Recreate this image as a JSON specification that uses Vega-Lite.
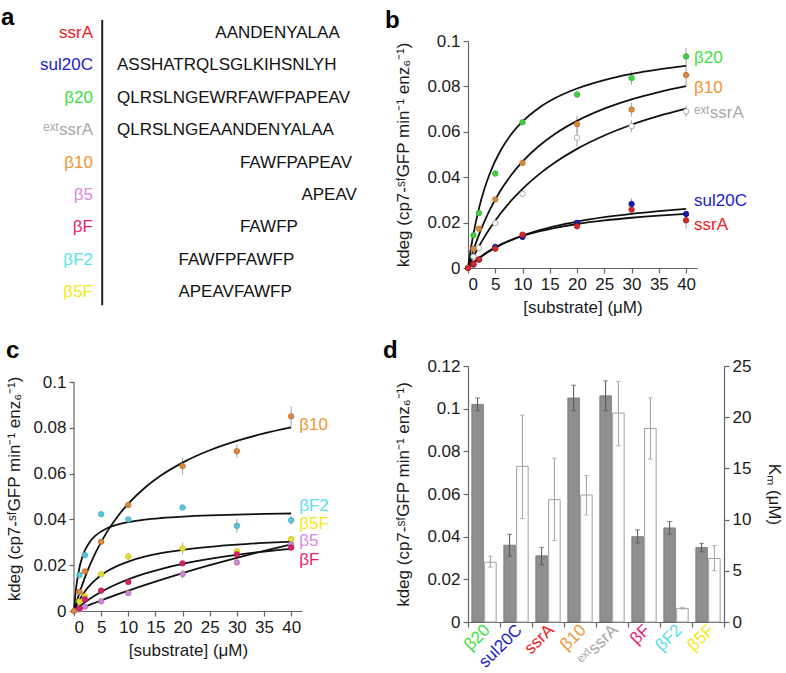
{
 "$schema": "https://vega.github.io/schema/vega-lite/v6.json",
 "padding": {"left": 1, "top": 6, "right": 0, "bottom": 0},
 "bounds": "flush",
 "columns": 2,
 "spacing": {"row": 98, "column": 62},
 "config": {
  "font": "Liberation Sans",
  "view": {"stroke": null},
  "axis": {"domainColor": "#666", "tickColor": "#666", "labelFontSize": 17, "titleFontSize": 17, "titleFontWeight": "normal", "labelColor": "#1a1a1a", "titleColor": "#1a1a1a", "grid": false, "tickSize": 5, "labelPadding": 3, "domainWidth": 1.2, "tickWidth": 1.2, "labelOverlap": false},
  "axisY": {"titlePadding": 9},
  "axisX": {"titlePadding": 7},
  "title": {"fontSize": 24, "fontWeight": "bold", "anchor": "start", "frame": "bounds", "color": "#000"}
 },
 "datasets": {
  "seqs": [
   {"row": 1, "name": "ssrA", "start": 9, "seq": "AANDENYALAA"},
   {"row": 2, "name": "sul20C", "start": 1, "seq": "ASSHATRQLSGLKIHSNLYH"},
   {"row": 3, "name": "β20", "start": 1, "seq": "QLRSLNGEWRFAWFPAPEAV"},
   {"row": 4, "name": "ᵉˣᵗssrA", "start": 1, "seq": "QLRSLNGEAANDENYALAA"},
   {"row": 5, "name": "β10", "start": 11, "seq": "FAWFPAPEAV"},
   {"row": 6, "name": "β5", "start": 16, "seq": "APEAV"},
   {"row": 7, "name": "βF", "start": 11, "seq": "FAWFP"},
   {"row": 8, "name": "βF2", "start": 6, "seq": "FAWFPFAWFP"},
   {"row": 9, "name": "β5F", "start": 6, "seq": "APEAVFAWFP"}
  ],
  "pts": [
   {"series": "β20", "x": 1, "y": 0.0144},
   {"series": "β20", "x": 2, "y": 0.0242},
   {"series": "β20", "x": 5, "y": 0.0416},
   {"series": "β20", "x": 10, "y": 0.0642},
   {"series": "β20", "x": 20, "y": 0.0764, "lo": 0.0749, "hi": 0.0779},
   {"series": "β20", "x": 30, "y": 0.0837, "lo": 0.0807, "hi": 0.0867},
   {"series": "β20", "x": 40, "y": 0.0932, "lo": 0.0894, "hi": 0.097},
   {"series": "β10", "x": 0, "y": 0},
   {"series": "β10", "x": 1, "y": 0.0084},
   {"series": "β10", "x": 2, "y": 0.0173},
   {"series": "β10", "x": 5, "y": 0.0302},
   {"series": "β10", "x": 10, "y": 0.0463},
   {"series": "β10", "x": 20, "y": 0.0633, "lo": 0.0595, "hi": 0.0671},
   {"series": "β10", "x": 30, "y": 0.0698, "lo": 0.0668, "hi": 0.0728},
   {"series": "β10", "x": 40, "y": 0.085, "lo": 0.0806, "hi": 0.0894},
   {"series": "ᵉˣᵗssrA", "x": 1, "y": 0.005},
   {"series": "ᵉˣᵗssrA", "x": 2, "y": 0.0088},
   {"series": "ᵉˣᵗssrA", "x": 5, "y": 0.0198},
   {"series": "ᵉˣᵗssrA", "x": 10, "y": 0.0326},
   {"series": "ᵉˣᵗssrA", "x": 20, "y": 0.0574, "lo": 0.0534, "hi": 0.0614},
   {"series": "ᵉˣᵗssrA", "x": 30, "y": 0.0625, "lo": 0.0599, "hi": 0.0651},
   {"series": "ᵉˣᵗssrA", "x": 40, "y": 0.069, "lo": 0.0666, "hi": 0.0714},
   {"series": "sul20C", "x": 1, "y": 0.0015},
   {"series": "sul20C", "x": 2, "y": 0.0037},
   {"series": "sul20C", "x": 5, "y": 0.0093},
   {"series": "sul20C", "x": 10, "y": 0.0137},
   {"series": "sul20C", "x": 20, "y": 0.0199},
   {"series": "sul20C", "x": 30, "y": 0.0282, "lo": 0.0257, "hi": 0.0307},
   {"series": "sul20C", "x": 40, "y": 0.0238},
   {"series": "ssrA", "x": 0, "y": 0},
   {"series": "ssrA", "x": 1, "y": 0.0018},
   {"series": "ssrA", "x": 2, "y": 0.0037},
   {"series": "ssrA", "x": 5, "y": 0.0085},
   {"series": "ssrA", "x": 10, "y": 0.0147},
   {"series": "ssrA", "x": 20, "y": 0.0184},
   {"series": "ssrA", "x": 30, "y": 0.0257},
   {"series": "ssrA", "x": 40, "y": 0.021, "lo": 0.0173, "hi": 0.0247},
   {"series": "βF2", "x": 1, "y": 0.0157},
   {"series": "βF2", "x": 2, "y": 0.0244},
   {"series": "βF2", "x": 5, "y": 0.0423},
   {"series": "βF2", "x": 10, "y": 0.04},
   {"series": "βF2", "x": 20, "y": 0.0452},
   {"series": "βF2", "x": 30, "y": 0.0372, "lo": 0.0342, "hi": 0.0402},
   {"series": "βF2", "x": 40, "y": 0.0396, "lo": 0.0376, "hi": 0.0416},
   {"series": "β5F", "x": 1, "y": 0.0041},
   {"series": "β5F", "x": 2, "y": 0.0065},
   {"series": "β5F", "x": 5, "y": 0.0161},
   {"series": "β5F", "x": 10, "y": 0.0238, "lo": 0.0223, "hi": 0.0253},
   {"series": "β5F", "x": 20, "y": 0.0273, "lo": 0.0248, "hi": 0.0298},
   {"series": "β5F", "x": 30, "y": 0.0261},
   {"series": "β5F", "x": 40, "y": 0.0314, "lo": 0.0299, "hi": 0.0329},
   {"series": "β5", "x": 1, "y": 0.0007},
   {"series": "β5", "x": 2, "y": 0.0019},
   {"series": "β5", "x": 5, "y": 0.0042},
   {"series": "β5", "x": 10, "y": 0.0078},
   {"series": "β5", "x": 20, "y": 0.0161, "lo": 0.0141, "hi": 0.0181},
   {"series": "β5", "x": 30, "y": 0.0212},
   {"series": "β5", "x": 40, "y": 0.0291},
   {"series": "βF", "x": 1, "y": 0.0012},
   {"series": "βF", "x": 2, "y": 0.0051},
   {"series": "βF", "x": 5, "y": 0.0089},
   {"series": "βF", "x": 10, "y": 0.0127},
   {"series": "βF", "x": 20, "y": 0.0208},
   {"series": "βF", "x": 30, "y": 0.0247},
   {"series": "βF", "x": 40, "y": 0.0277, "lo": 0.0262, "hi": 0.0292}
  ],
  "fits": [
   {"series": "β20", "x": 0, "y": 0}, {"series": "β20", "x": 0.5, "y": 0.0081}, {"series": "β20", "x": 1, "y": 0.015}, {"series": "β20", "x": 2, "y": 0.02615}, {"series": "β20", "x": 3, "y": 0.03477}, {"series": "β20", "x": 4, "y": 0.04163}, {"series": "β20", "x": 6, "y": 0.05186}, {"series": "β20", "x": 8, "y": 0.05913}, {"series": "β20", "x": 10, "y": 0.06456}, {"series": "β20", "x": 13, "y": 0.07053}, {"series": "β20", "x": 16, "y": 0.07486}, {"series": "β20", "x": 20, "y": 0.07907}, {"series": "β20", "x": 25, "y": 0.08279}, {"series": "β20", "x": 30, "y": 0.08547}, {"series": "β20", "x": 35, "y": 0.0875}, {"series": "β20", "x": 40, "y": 0.08908},
   {"series": "β10", "x": 0, "y": 0}, {"series": "β10", "x": 0.5, "y": 0.00407}, {"series": "β10", "x": 1, "y": 0.00784}, {"series": "β10", "x": 2, "y": 0.01458}, {"series": "β10", "x": 3, "y": 0.02045}, {"series": "β10", "x": 4, "y": 0.02561}, {"series": "β10", "x": 6, "y": 0.03424}, {"series": "β10", "x": 8, "y": 0.04118}, {"series": "β10", "x": 10, "y": 0.04688}, {"series": "β10", "x": 13, "y": 0.05374}, {"series": "β10", "x": 16, "y": 0.05915}, {"series": "β10", "x": 20, "y": 0.06481}, {"series": "β10", "x": 25, "y": 0.07019}, {"series": "β10", "x": 30, "y": 0.07429}, {"series": "β10", "x": 35, "y": 0.07753}, {"series": "β10", "x": 40, "y": 0.08015},
   {"series": "ᵉˣᵗssrA", "x": 0, "y": 0}, {"series": "ᵉˣᵗssrA", "x": 0.5, "y": 0.00254}, {"series": "ᵉˣᵗssrA", "x": 1, "y": 0.00495}, {"series": "ᵉˣᵗssrA", "x": 2, "y": 0.00946}, {"series": "ᵉˣᵗssrA", "x": 3, "y": 0.01359}, {"series": "ᵉˣᵗssrA", "x": 4, "y": 0.01738}, {"series": "ᵉˣᵗssrA", "x": 6, "y": 0.02409}, {"series": "ᵉˣᵗssrA", "x": 8, "y": 0.02986}, {"series": "ᵉˣᵗssrA", "x": 10, "y": 0.03487}, {"series": "ᵉˣᵗssrA", "x": 13, "y": 0.04126}, {"series": "ᵉˣᵗssrA", "x": 16, "y": 0.04659}, {"series": "ᵉˣᵗssrA", "x": 20, "y": 0.05248}, {"series": "ᵉˣᵗssrA", "x": 25, "y": 0.05837}, {"series": "ᵉˣᵗssrA", "x": 30, "y": 0.0631}, {"series": "ᵉˣᵗssrA", "x": 35, "y": 0.06697}, {"series": "ᵉˣᵗssrA", "x": 40, "y": 0.0702},
   {"series": "sul20C", "x": 0, "y": 0}, {"series": "sul20C", "x": 0.5, "y": 0.00115}, {"series": "sul20C", "x": 1, "y": 0.00222}, {"series": "sul20C", "x": 2, "y": 0.00419}, {"series": "sul20C", "x": 3, "y": 0.00593}, {"series": "sul20C", "x": 4, "y": 0.0075}, {"series": "sul20C", "x": 6, "y": 0.01019}, {"series": "sul20C", "x": 8, "y": 0.01241}, {"series": "sul20C", "x": 10, "y": 0.01429}, {"series": "sul20C", "x": 13, "y": 0.0166}, {"series": "sul20C", "x": 16, "y": 0.01846}, {"series": "sul20C", "x": 20, "y": 0.02045}, {"series": "sul20C", "x": 25, "y": 0.02239}, {"series": "sul20C", "x": 30, "y": 0.02389}, {"series": "sul20C", "x": 35, "y": 0.0251}, {"series": "sul20C", "x": 40, "y": 0.02609},
   {"series": "ssrA", "x": 0, "y": 0}, {"series": "ssrA", "x": 0.5, "y": 0.00124}, {"series": "ssrA", "x": 1, "y": 0.00238}, {"series": "ssrA", "x": 2, "y": 0.00443}, {"series": "ssrA", "x": 3, "y": 0.0062}, {"series": "ssrA", "x": 4, "y": 0.00775}, {"series": "ssrA", "x": 6, "y": 0.01033}, {"series": "ssrA", "x": 8, "y": 0.0124}, {"series": "ssrA", "x": 10, "y": 0.01409}, {"series": "ssrA", "x": 13, "y": 0.01612}, {"series": "ssrA", "x": 16, "y": 0.01771}, {"series": "ssrA", "x": 20, "y": 0.01938}, {"series": "ssrA", "x": 25, "y": 0.02095}, {"series": "ssrA", "x": 30, "y": 0.02214}, {"series": "ssrA", "x": 35, "y": 0.02309}, {"series": "ssrA", "x": 40, "y": 0.02385},
   {"series": "βF2", "x": 0, "y": 0}, {"series": "βF2", "x": 0.25, "y": 0.00696}, {"series": "βF2", "x": 0.5, "y": 0.01202}, {"series": "βF2", "x": 1, "y": 0.01888}, {"series": "βF2", "x": 1.5, "y": 0.02332}, {"series": "βF2", "x": 2, "y": 0.02643}, {"series": "βF2", "x": 3, "y": 0.03048}, {"series": "βF2", "x": 4, "y": 0.03302}, {"series": "βF2", "x": 6, "y": 0.03602}, {"series": "βF2", "x": 8, "y": 0.03773}, {"series": "βF2", "x": 10, "y": 0.03883}, {"series": "βF2", "x": 13, "y": 0.03992}, {"series": "βF2", "x": 16, "y": 0.04062}, {"series": "βF2", "x": 20, "y": 0.04126}, {"series": "βF2", "x": 25, "y": 0.04178}, {"series": "βF2", "x": 30, "y": 0.04213}, {"series": "βF2", "x": 35, "y": 0.04239}, {"series": "βF2", "x": 40, "y": 0.04258},
   {"series": "β5F", "x": 0, "y": 0}, {"series": "β5F", "x": 0.5, "y": 0.00261}, {"series": "β5F", "x": 1, "y": 0.00486}, {"series": "β5F", "x": 2, "y": 0.00854}, {"series": "β5F", "x": 3, "y": 0.01141}, {"series": "β5F", "x": 4, "y": 0.01373}, {"series": "β5F", "x": 6, "y": 0.01721}, {"series": "β5F", "x": 8, "y": 0.01972}, {"series": "β5F", "x": 10, "y": 0.0216}, {"series": "β5F", "x": 13, "y": 0.0237}, {"series": "β5F", "x": 16, "y": 0.02523}, {"series": "β5F", "x": 20, "y": 0.02672}, {"series": "β5F", "x": 25, "y": 0.02804}, {"series": "β5F", "x": 30, "y": 0.02901}, {"series": "β5F", "x": 35, "y": 0.02973}, {"series": "β5F", "x": 40, "y": 0.0303},
   {"series": "βF", "x": 0, "y": 0}, {"series": "βF", "x": 0.5, "y": 0.00103}, {"series": "βF", "x": 1, "y": 0.00201}, {"series": "βF", "x": 2, "y": 0.00383}, {"series": "βF", "x": 3, "y": 0.00548}, {"series": "βF", "x": 4, "y": 0.00699}, {"series": "βF", "x": 6, "y": 0.00964}, {"series": "βF", "x": 8, "y": 0.0119}, {"series": "βF", "x": 10, "y": 0.01384}, {"series": "βF", "x": 13, "y": 0.0163}, {"series": "βF", "x": 16, "y": 0.01834}, {"series": "βF", "x": 20, "y": 0.02057}, {"series": "βF", "x": 25, "y": 0.02278}, {"series": "βF", "x": 30, "y": 0.02454}, {"series": "βF", "x": 35, "y": 0.02597}, {"series": "βF", "x": 40, "y": 0.02716},
   {"series": "β5", "x": 0, "y": 0}, {"series": "β5", "x": 0.5, "y": 0.00048}, {"series": "β5", "x": 1, "y": 0.00095}, {"series": "β5", "x": 2, "y": 0.00189}, {"series": "β5", "x": 3, "y": 0.00281}, {"series": "β5", "x": 4, "y": 0.00372}, {"series": "β5", "x": 6, "y": 0.0055}, {"series": "β5", "x": 8, "y": 0.00722}, {"series": "β5", "x": 10, "y": 0.00889}, {"series": "β5", "x": 13, "y": 0.0113}, {"series": "β5", "x": 16, "y": 0.01362}, {"series": "β5", "x": 20, "y": 0.01655}, {"series": "β5", "x": 25, "y": 0.02}, {"series": "β5", "x": 30, "y": 0.02323}, {"series": "β5", "x": 35, "y": 0.02625}, {"series": "β5", "x": 40, "y": 0.02909}
  ],
  "labels": [
   {"panel": "b", "series": "β20", "x": 40, "y": 0.0927},
   {"panel": "b", "series": "β10", "x": 40, "y": 0.0795},
   {"panel": "b", "series": "ᵉˣᵗssrA", "x": 40, "y": 0.0681},
   {"panel": "b", "series": "sul20C", "x": 40, "y": 0.0293},
   {"panel": "b", "series": "ssrA", "x": 40, "y": 0.019},
   {"panel": "c", "series": "β10", "x": 40, "y": 0.0812},
   {"panel": "c", "series": "βF2", "x": 40, "y": 0.0457},
   {"panel": "c", "series": "β5F", "x": 40, "y": 0.0378},
   {"panel": "c", "series": "β5", "x": 40, "y": 0.0306},
   {"panel": "c", "series": "βF", "x": 40, "y": 0.0222}
  ],
  "bars": [
   {"name": "β20", "kdeg": 0.102, "klo": 0.099, "khi": 0.105, "km": 5.84, "mlo": 5.36, "mhi": 6.43},
   {"name": "sul20C", "kdeg": 0.036, "klo": 0.0309, "khi": 0.0411, "km": 15.2, "mlo": 10.1, "mhi": 20.2},
   {"name": "ssrA", "kdeg": 0.031, "klo": 0.0268, "khi": 0.035, "km": 11.95, "mlo": 7.95, "mhi": 16.0},
   {"name": "β10", "kdeg": 0.105, "klo": 0.099, "khi": 0.111, "km": 12.4, "mlo": 10.45, "mhi": 14.3},
   {"name": "ᵉˣᵗssrA", "kdeg": 0.106, "klo": 0.099, "khi": 0.113, "km": 20.4, "mlo": 17.2, "mhi": 23.5},
   {"name": "βF", "kdeg": 0.04, "klo": 0.0371, "khi": 0.0432, "km": 18.9, "mlo": 15.9, "mhi": 21.9},
   {"name": "βF2", "kdeg": 0.0441, "klo": 0.0411, "khi": 0.0471, "km": 1.33, "mlo": 1.27, "mhi": 1.43},
   {"name": "β5F", "kdeg": 0.0349, "klo": 0.0329, "khi": 0.0369, "km": 6.2, "mlo": 5.0, "mhi": 7.47}
  ]
 },
 "concat": [
    {
     "width": 332, "height": 227,
     "title": {"text": "a", "dx": -39, "offset": -11},
     "layer": [
      {"data": {"name": "seqs"},
       "mark": {"type": "text", "align": "right", "baseline": "middle", "fontSize": 17},
       "encoding": {
        "x": {"datum": -0.95, "type": "quantitative", "scale": {"domain": [-2.494, 24.506], "nice": false, "zero": false}, "axis": null},
        "y": {"field": "row", "type": "quantitative", "scale": {"domain": [1.247, 8.25], "nice": false, "zero": false, "reverse": true}, "axis": null},
        "text": {"field": "name"},
        "color": {"field": "name", "type": "nominal", "legend": null, "scale": {"domain": ["ssrA", "sul20C", "β20", "ᵉˣᵗssrA", "β10", "β5", "βF", "βF2", "β5F"], "range": ["#ee2020", "#1c1cc8", "#3ee03e", "#a8a8a8", "#f39433", "#dd88dd", "#ea1f78", "#5ce0ee", "#f2ea1c"]}}
       }},
      {"data": {"values": [{}]},
       "mark": {"type": "rule", "strokeWidth": 2, "color": "#222"},
       "encoding": {"x": {"datum": -0.2, "type": "quantitative"}, "y": {"datum": 0.6, "type": "quantitative"}, "y2": {"datum": 9.4}}},
      {"data": {"name": "seqs"},
       "mark": {"type": "text", "align": "left", "baseline": "middle", "fontSize": 17, "color": "#111"},
       "encoding": {"x": {"field": "start", "type": "quantitative"}, "y": {"field": "row", "type": "quantitative"}, "text": {"field": "seq"}}}
     ]
    },
    {
     "width": 229, "height": 227,
     "title": {"text": "b", "offset": -1, "dx": -10},
     "encoding": {
      "x": {"field": "x", "type": "quantitative", "scale": {"domain": [0, 42], "nice": false}, "title": "[substrate] (μM)", "axis": {"values": [0, 5, 10, 15, 20, 25, 30, 35, 40], "labelOverlap": false}}
     },
     "layer": [
      {"data": {"name": "pts"},
       "transform": [{"filter": {"field": "series", "oneOf": ["β20", "β10", "ᵉˣᵗssrA", "sul20C", "ssrA"]}}, {"filter": "isValid(datum.lo)"}],
       "mark": {"type": "rule", "color": "#a0a0a0", "strokeWidth": 1},
       "encoding": {
        "y": {"field": "lo", "type": "quantitative", "scale": {"domain": [0, 0.1], "nice": false}, "title": "kdeg (cp7-ˢᶠGFP min⁻¹ enz₆⁻¹)", "axis": {"values": [0, 0.02, 0.04, 0.06, 0.08, 0.1], "format": ".2~f", "titlePadding": 14}},
        "y2": {"field": "hi"}
       }},
      {"data": {"name": "fits"},
       "transform": [{"filter": {"field": "series", "oneOf": ["β20", "β10", "ᵉˣᵗssrA", "sul20C", "ssrA"]}}],
       "mark": {"type": "line", "color": "#111", "strokeWidth": 1.8, "interpolate": "monotone"},
       "encoding": {
        "y": {"field": "y", "type": "quantitative", "title": "kdeg (cp7-ˢᶠGFP min⁻¹ enz₆⁻¹)"},
        "detail": {"field": "series"}
       }},
      {"data": {"name": "pts"},
       "transform": [{"filter": {"field": "series", "oneOf": ["β20", "β10", "ᵉˣᵗssrA", "sul20C", "ssrA"]}}],
       "mark": {"type": "point", "shape": "circle", "filled": true, "size": 30, "strokeWidth": 0.8, "opacity": 1},
       "encoding": {
        "y": {"field": "y", "type": "quantitative", "title": "kdeg (cp7-ˢᶠGFP min⁻¹ enz₆⁻¹)"},
        "fill": {"field": "series", "type": "nominal", "legend": null, "scale": {"domain": ["ssrA", "sul20C", "β20", "ᵉˣᵗssrA", "β10", "β5", "βF", "βF2", "β5F"], "range": ["#d42a2a", "#1a1aa8", "#45cf45", "#ffffff", "#d98a3a", "#c98ad0", "#d8206a", "#5ac8d6", "#e5df30"]}},
        "stroke": {"field": "series", "type": "nominal", "legend": null, "scale": {"domain": ["ssrA", "sul20C", "β20", "ᵉˣᵗssrA", "β10", "β5", "βF", "βF2", "β5F"], "range": ["#b01a1a", "#10108a", "#30b030", "#999999", "#b87030", "#b070b8", "#b01858", "#3ca8b8", "#c8c020"]}}
       }},
      {"data": {"name": "labels"},
       "transform": [{"filter": "datum.panel === 'b'"}],
       "mark": {"type": "text", "align": "left", "baseline": "middle", "dx": 8, "fontSize": 17},
       "encoding": {
        "y": {"field": "y", "type": "quantitative", "title": "kdeg (cp7-ˢᶠGFP min⁻¹ enz₆⁻¹)"},
        "text": {"field": "series"},
        "color": {"field": "series", "type": "nominal", "legend": null, "scale": {"domain": ["ssrA", "sul20C", "β20", "ᵉˣᵗssrA", "β10", "β5", "βF", "βF2", "β5F"], "range": ["#ee2020", "#1c1cc8", "#3ee03e", "#a8a8a8", "#f39433", "#dd88dd", "#ea1f78", "#5ce0ee", "#f2ea1c"]}}
       }}
     ]
    },
    {
     "width": 228, "height": 245,
     "title": {"text": "c", "offset": 3},
     "encoding": {
      "x": {"field": "x", "type": "quantitative", "scale": {"domain": [0, 42], "nice": false}, "title": "[substrate] (μM)", "axis": {"values": [0, 5, 10, 15, 20, 25, 30, 35, 40], "labelOverlap": false}}
     },
     "layer": [
      {"data": {"values": [{"x": 0, "y": 0, "y2": 0.1}]},
       "mark": {"type": "rule", "color": "#666", "strokeWidth": 1.2},
       "encoding": {
        "y": {"field": "y", "type": "quantitative", "scale": {"domain": [0, 0.107], "nice": false}, "title": "kdeg (cp7-ˢᶠGFP min⁻¹ enz₆⁻¹)", "axis": {"values": [0, 0.02, 0.04, 0.06, 0.08, 0.1], "format": ".2~f", "domain": false}},
        "y2": {"field": "y2"}
       }},
      {"data": {"name": "pts"},
       "transform": [{"filter": {"field": "series", "oneOf": ["β10", "βF2", "β5F", "β5", "βF"]}}, {"filter": "isValid(datum.lo)"}],
       "mark": {"type": "rule", "color": "#a0a0a0", "strokeWidth": 1},
       "encoding": {
        "y": {"field": "lo", "type": "quantitative", "title": "kdeg (cp7-ˢᶠGFP min⁻¹ enz₆⁻¹)"},
        "y2": {"field": "hi"}
       }},
      {"data": {"name": "fits"},
       "transform": [{"filter": {"field": "series", "oneOf": ["β10", "βF2", "β5F", "β5", "βF"]}}],
       "mark": {"type": "line", "color": "#111", "strokeWidth": 1.8, "interpolate": "monotone"},
       "encoding": {
        "y": {"field": "y", "type": "quantitative", "title": "kdeg (cp7-ˢᶠGFP min⁻¹ enz₆⁻¹)"},
        "detail": {"field": "series"}
       }},
      {"data": {"name": "pts"},
       "transform": [{"filter": {"field": "series", "oneOf": ["β10", "βF2", "β5F", "β5", "βF"]}}],
       "mark": {"type": "point", "shape": "circle", "filled": true, "size": 30, "strokeWidth": 0.8, "opacity": 1},
       "encoding": {
        "y": {"field": "y", "type": "quantitative", "title": "kdeg (cp7-ˢᶠGFP min⁻¹ enz₆⁻¹)"},
        "fill": {"field": "series", "type": "nominal", "legend": null, "scale": {"domain": ["ssrA", "sul20C", "β20", "ᵉˣᵗssrA", "β10", "β5", "βF", "βF2", "β5F"], "range": ["#d42a2a", "#1a1aa8", "#45cf45", "#ffffff", "#d98a3a", "#c98ad0", "#d8206a", "#5ac8d6", "#e5df30"]}},
        "stroke": {"field": "series", "type": "nominal", "legend": null, "scale": {"domain": ["ssrA", "sul20C", "β20", "ᵉˣᵗssrA", "β10", "β5", "βF", "βF2", "β5F"], "range": ["#b01a1a", "#10108a", "#30b030", "#999999", "#b87030", "#b070b8", "#b01858", "#3ca8b8", "#c8c020"]}}
       }},
      {"data": {"name": "labels"},
       "transform": [{"filter": "datum.panel === 'c'"}],
       "mark": {"type": "text", "align": "left", "baseline": "middle", "dx": 8, "fontSize": 17},
       "encoding": {
        "y": {"field": "y", "type": "quantitative", "title": "kdeg (cp7-ˢᶠGFP min⁻¹ enz₆⁻¹)"},
        "text": {"field": "series"},
        "color": {"field": "series", "type": "nominal", "legend": null, "scale": {"domain": ["ssrA", "sul20C", "β20", "ᵉˣᵗssrA", "β10", "β5", "βF", "βF2", "β5F"], "range": ["#ee2020", "#1c1cc8", "#3ee03e", "#a8a8a8", "#f39433", "#dd88dd", "#ea1f78", "#5ce0ee", "#f2ea1c"]}}
       }}
     ]
    },
    {
     "width": 256, "height": 256,
     "title": {"text": "d", "offset": -6, "dx": -12},
     "data": {"name": "bars"},
     "encoding": {
      "x": {"field": "name", "type": "nominal", "sort": null, "scale": {"paddingInner": 0, "paddingOuter": 0},
            "axis": {"title": null, "labelAngle": -45, "labelAlign": "right", "labelBaseline": "middle", "tickBand": "extent", "labelPadding": 0, "labelOffset": 3,
                     "labelColor": {"condition": [
                       {"test": "datum.value === 'β20'", "value": "#3ee03e"},
                       {"test": "datum.value === 'sul20C'", "value": "#1c1cc8"},
                       {"test": "datum.value === 'ssrA'", "value": "#ee2020"},
                       {"test": "datum.value === 'β10'", "value": "#f39433"},
                       {"test": "datum.value === 'ᵉˣᵗssrA'", "value": "#a8a8a8"},
                       {"test": "datum.value === 'βF'", "value": "#ea1f78"},
                       {"test": "datum.value === 'βF2'", "value": "#5ce0ee"},
                       {"test": "datum.value === 'β5F'", "value": "#f2ea1c"}
                     ], "value": "#000"}}}
     },
     "layer": [
      {"layer": [
        {"mark": {"type": "bar", "fill": "#8f8f8f", "stroke": "#707070", "strokeWidth": 0.8},
         "encoding": {
          "xOffset": {"datum": "k", "scale": {"domain": ["k", "m"], "paddingInner": 0.1, "paddingOuter": 0.3}},
          "y": {"field": "kdeg", "type": "quantitative", "scale": {"domain": [0, 0.12], "nice": false}, "title": "kdeg (cp7-ˢᶠGFP min⁻¹ enz₆⁻¹)", "axis": {"orient": "left", "values": [0, 0.02, 0.04, 0.06, 0.08, 0.1, 0.12], "format": ".2~f", "titlePadding": 14}}
         }},
        {"mark": {"type": "rule", "color": "#555", "strokeWidth": 1},
         "encoding": {"xOffset": {"datum": "k"}, "y": {"field": "klo", "type": "quantitative", "title": "kdeg (cp7-ˢᶠGFP min⁻¹ enz₆⁻¹)"}, "y2": {"field": "khi"}}},
        {"mark": {"type": "tick", "color": "#555", "size": 5, "thickness": 1},
         "encoding": {"xOffset": {"datum": "k"}, "y": {"field": "khi", "type": "quantitative", "title": "kdeg (cp7-ˢᶠGFP min⁻¹ enz₆⁻¹)"}}},
        {"mark": {"type": "tick", "color": "#555", "size": 5, "thickness": 1},
         "encoding": {"xOffset": {"datum": "k"}, "y": {"field": "klo", "type": "quantitative", "title": "kdeg (cp7-ˢᶠGFP min⁻¹ enz₆⁻¹)"}}}
      ]},
      {"layer": [
        {"mark": {"type": "bar", "fill": "#ffffff", "stroke": "#a0a0a0", "strokeWidth": 1},
         "encoding": {
          "xOffset": {"datum": "m"},
          "y": {"field": "km", "type": "quantitative", "scale": {"domain": [0, 25], "nice": false}, "title": "Kₘ (μM)", "axis": {"orient": "right", "values": [0, 5, 10, 15, 20, 25], "titlePadding": 14}}
         }},
        {"mark": {"type": "rule", "color": "#a0a0a0", "strokeWidth": 1},
         "encoding": {"xOffset": {"datum": "m"}, "y": {"field": "mlo", "type": "quantitative", "title": "Kₘ (μM)"}, "y2": {"field": "mhi"}}},
        {"mark": {"type": "tick", "color": "#a0a0a0", "size": 5, "thickness": 1},
         "encoding": {"xOffset": {"datum": "m"}, "y": {"field": "mhi", "type": "quantitative", "title": "Kₘ (μM)"}}},
        {"mark": {"type": "tick", "color": "#a0a0a0", "size": 5, "thickness": 1},
         "encoding": {"xOffset": {"datum": "m"}, "y": {"field": "mlo", "type": "quantitative", "title": "Kₘ (μM)"}}}
      ]}
     ],
     "resolve": {"scale": {"y": "independent"}}
    }
 ]
}
